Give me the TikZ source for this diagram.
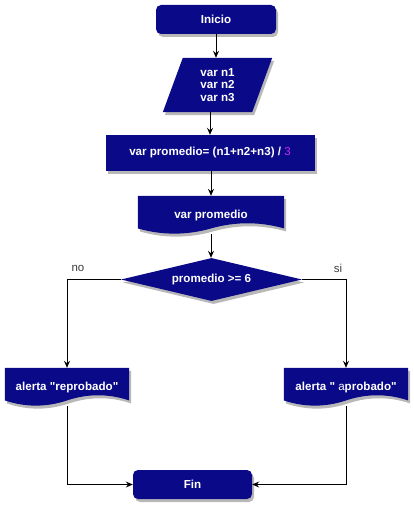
\documentclass[tikz,border=0pt]{standalone}
\usepackage{fontspec}
\setmainfont{Liberation Sans}[Ligatures=TeXOff]
\usetikzlibrary{shapes.geometric,shadows,backgrounds,arrows.meta,calc}
\definecolor{navy}{RGB}{10,10,136}
\definecolor{three}{RGB}{200,40,240}
\definecolor{lbl}{RGB}{60,60,60}
\tikzset{
 shad/.style={drop shadow={shadow xshift=2pt,shadow yshift=-3pt,fill=black,opacity=0.28}},
 base/.style={text=white,font=\fontsize{11.6}{12.5}\selectfont\bfseries,inner sep=0pt,align=center},
 term/.style={base,rectangle,rounded corners=5pt,fill=navy,shad,minimum width=120pt,minimum height=29pt},
 proc/.style={base,rectangle,fill=navy,shad},
 holder/.style={base,rectangle,draw=none},
 dec/.style={base,diamond,fill=navy,shad,aspect=4.2,minimum width=181pt,minimum height=43pt},
 conn/.style={draw=black,line width=1pt,-{Stealth[length=7pt,width=6pt,inset=2.5pt]}},
 lab/.style={text=lbl,font=\fontsize{11.5}{13}\selectfont,inner sep=0pt}
}
\newcommand\docbg[1]{%
\fill[navy,shad] let \p1=(#1.north west), \p2=(#1.south east), \n1={\x2-\x1}, \n2={\y1-\y2}, \n3={0.3*\n2} in
 (\x1,\y1) -- (\x2,\y1) -- (\x2,\y2+0.5*\n3)
 .. controls (\x2-\n1/6,\y2+1.1*\n3) and (\x1+0.5*\n1+\n1/6,\y2+1.1*\n3) .. (\x1+0.5*\n1,\y2+0.5*\n3)
 .. controls (\x1+\n1/3,\y2-0.1*\n3) and (\x1+\n1/6,\y2-0.1*\n3) .. (\x1,\y2+0.5*\n3) -- cycle;}
\begin{document}
\begin{tikzpicture}[x=1pt,y=-1pt]
\useasboundingbox (0,0) rectangle (413,508);
\node[term] (ini) at (216,19.5) {Inicio};
\node[holder,minimum width=109pt,minimum height=54pt] (par) at (217.5,85) {var n1\\var n2\\var n3};
\node[proc,minimum width=209pt,minimum height=36pt] (prom) at (210,153) {var promedio= (n1+n2+n3) / \textcolor{three}{\mdseries 3}};
\node[holder,minimum width=146pt,minimum height=38pt] (out) at (211,215) {var promedio};
\node[dec] (dec) at (211.5,279.5) {promedio >= 6};
\node[holder,minimum width=124pt,minimum height=38pt] (rep) at (67,387) {alerta "reprobado"};
\node[holder,minimum width=124pt,minimum height=38pt] (apr) at (346,387) {alerta " {\mdseries a}probado"};
\node[term,minimum width=119pt] (fin) at (192.5,484.5) {Fin};
\node[lab] (no) at (78,268) {no};
\node[lab] (si) at (338,268) {si};
\begin{scope}[on background layer]
 \fill[navy,shad] ($(par.north west)+(20,0)$) -- (par.north east) -- ($(par.south east)+(-20,0)$) -- (par.south west) -- cycle;
 \docbg{out}
 \docbg{rep}
 \docbg{apr}
\end{scope}
\draw[conn] (ini.south) -- (ini.south |- par.north);
\draw[conn] (par.south -| prom.north) -- (prom.north);
\draw[conn] (prom.south -| out.north) -- (out.north);
\draw[conn] (out.south) -- (out.south |- dec.north);
\draw[conn] (dec.west) -| (rep.north);
\draw[conn] (dec.east) -| (apr.north);
\draw[conn] (rep.south) |- (fin.west);
\draw[conn] (apr.south) |- (fin.east);
\end{tikzpicture}
\end{document}
